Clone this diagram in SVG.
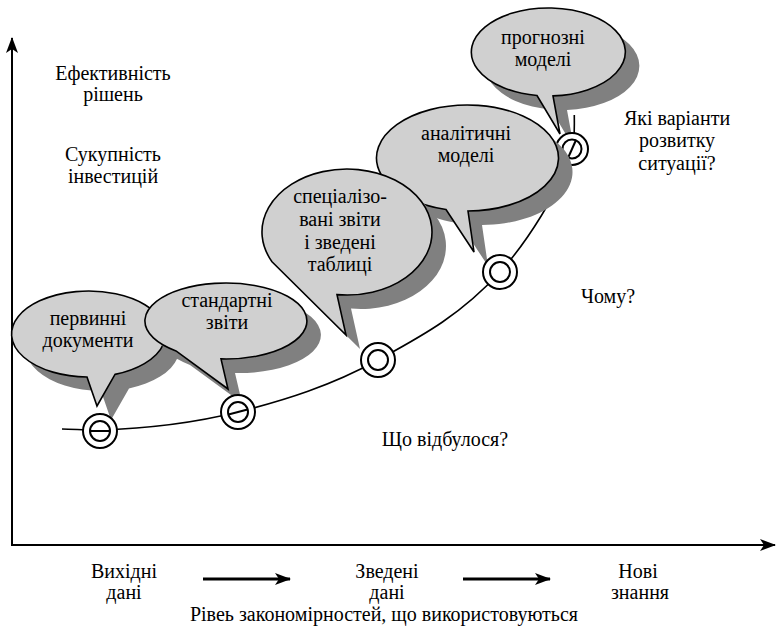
<svg xmlns="http://www.w3.org/2000/svg" width="776" height="628" viewBox="0 0 776 628">
<style>
.t{font-family:'Liberation Serif','Times New Roman',serif;font-size:20px;fill:#000;text-anchor:middle}
.axis{stroke:#000;stroke-width:2;fill:none}
.curve{stroke:#000;stroke-width:1.6;fill:none}
.ring{fill:#fff;stroke:#000;stroke-width:2}
.inner{fill:none;stroke:#000;stroke-width:2}
.bub{fill:#d0d0d0;stroke:#000;stroke-width:1.6;stroke-linejoin:miter}
.sh{fill:#808080;stroke:none}
.thick{stroke:#000;stroke-width:3;fill:none}
</style>
<defs>
<marker id="ah" viewBox="0 0 16 12" refX="15" refY="6" markerWidth="16" markerHeight="12" markerUnits="userSpaceOnUse" orient="auto"><path d="M0,0 L16,6 L0,12 L4,6 Z" fill="#000"/></marker>
<marker id="ah2" viewBox="0 0 16 12" refX="15" refY="6" markerWidth="16" markerHeight="12" markerUnits="userSpaceOnUse" orient="auto"><path d="M0,0 L16,6 L0,12 L4,6 Z" fill="#000"/></marker>
</defs>
<rect width="776" height="628" fill="#fff"/>
<g id="axes">
<line class="axis" x1="12" y1="546" x2="12" y2="38" marker-end="url(#ah)"/>
<line class="axis" x1="11" y1="545" x2="775" y2="545" marker-end="url(#ah)"/>
</g>
<g id="connectors">
<path class="curve" d="M62,429 C74.3,429.1 86.7,430.4 99,430 C145.3,428.6 191.7,423.6 238,412 C284.7,400.3 331.3,385.7 378,360 C418.7,337.6 459.3,316.7 500,272 C524,245.6 561.75,190 572,149 C575,141 574.3,127 574.3,115"/>
<line class="thick" x1="203" y1="579" x2="290" y2="579" marker-end="url(#ah2)"/>
<line class="thick" x1="463" y1="579" x2="550" y2="579" marker-end="url(#ah2)"/>
</g>
<g id="bubble5">
<path class="sh" transform="translate(14,14)" d="M553,95.9 A77,44 0 1 0 537,95.5 L560,134 Z"/>
<path class="bub" d="M553,95.9 A77,44 0 1 0 537,95.5 L560,134 Z"/>
<text class="t" x="543" y="44">прогнозні</text><text class="t" x="543" y="66">моделі</text>
</g>
<g id="point5"><circle class="ring" cx="572" cy="149" r="16"/><circle class="inner" cx="572" cy="149" r="9.5"/><line class="inner" x1="568" y1="158" x2="576" y2="140"/></g>
<g id="bubble4">
<path class="sh" transform="translate(14,14)" d="M468,211 A91,53 0 1 0 446,209.5 L474,252 Z"/>
<path class="bub" d="M468,211 A91,53 0 1 0 446,209.5 L474,252 Z"/>
<text class="t" x="466" y="140">аналітичні</text><text class="t" x="466" y="162">моделі</text>
</g>
<g id="bubble1">
<path class="sh" transform="translate(14,14)" d="M115,374.4 A77,43 0 1 0 87,377 L97,406 Z"/>
<path class="bub" d="M115,374.4 A77,43 0 1 0 87,377 L97,406 Z"/>
<text class="t" x="88" y="325">первинні</text><text class="t" x="88" y="347">документи</text>
</g>
<g id="bubble2">
<path class="sh" transform="translate(14,14)" d="M221,358.9 A81,38 0 1 0 176,350.9 L228,389 Z"/>
<path class="bub" d="M221,358.9 A81,38 0 1 0 176,350.9 L228,389 Z"/>
<text class="t" x="227" y="307">стандартні</text><text class="t" x="227" y="329">звіти</text>
</g>
<g id="bubble3">
<path class="sh" transform="translate(14,14)" d="M337,294.6 A85,63 0 1 0 272,261.7 L346,335 Z"/>
<path class="bub" d="M337,294.6 A85,63 0 1 0 272,261.7 L346,335 Z"/>
<text class="t" x="340" y="203">спеціалізо-</text><text class="t" x="340" y="226">вані звіти</text><text class="t" x="340" y="249">і зведені</text><text class="t" x="340" y="271">таблиці</text>
</g>
<g id="point1"><circle class="ring" cx="100" cy="431" r="17"/><circle class="inner" cx="100" cy="431" r="10"/><line class="inner" x1="90" y1="431" x2="110" y2="431"/></g>
<g id="point2"><circle class="ring" cx="238" cy="412" r="17"/><circle class="inner" cx="238" cy="412" r="10"/><line class="inner" x1="228.5" y1="414.5" x2="247.5" y2="409.5"/></g>
<g id="point3"><circle class="ring" cx="378" cy="360" r="17"/><circle class="inner" cx="378" cy="360" r="10"/></g>
<g id="point4"><circle class="ring" cx="500" cy="272" r="17"/><circle class="inner" cx="500" cy="272" r="10"/></g>
<g id="labels">
<text class="t" x="113" y="80">Ефективність</text><text class="t" x="113" y="101">рішень</text>
<text class="t" x="113" y="161">Сукупність</text><text class="t" x="113" y="183">інвестицій</text>
<text class="t" x="677" y="125">Які варіанти</text><text class="t" x="677" y="147">розвитку</text><text class="t" x="677" y="170">ситуації?</text>
<text class="t" x="608" y="303">Чому?</text>
<text class="t" x="445" y="446">Що відбулося?</text>
<text class="t" x="124" y="578">Вихідні</text><text class="t" x="124" y="599">дані</text>
<text class="t" x="387" y="578">Зведені</text><text class="t" x="387" y="599">дані</text>
<text class="t" x="638" y="578">Нові</text><text class="t" x="640" y="599">знання</text>
<text class="t" x="384" y="621">Рівеь закономірностей, що використовуються</text>
</g>
</svg>
